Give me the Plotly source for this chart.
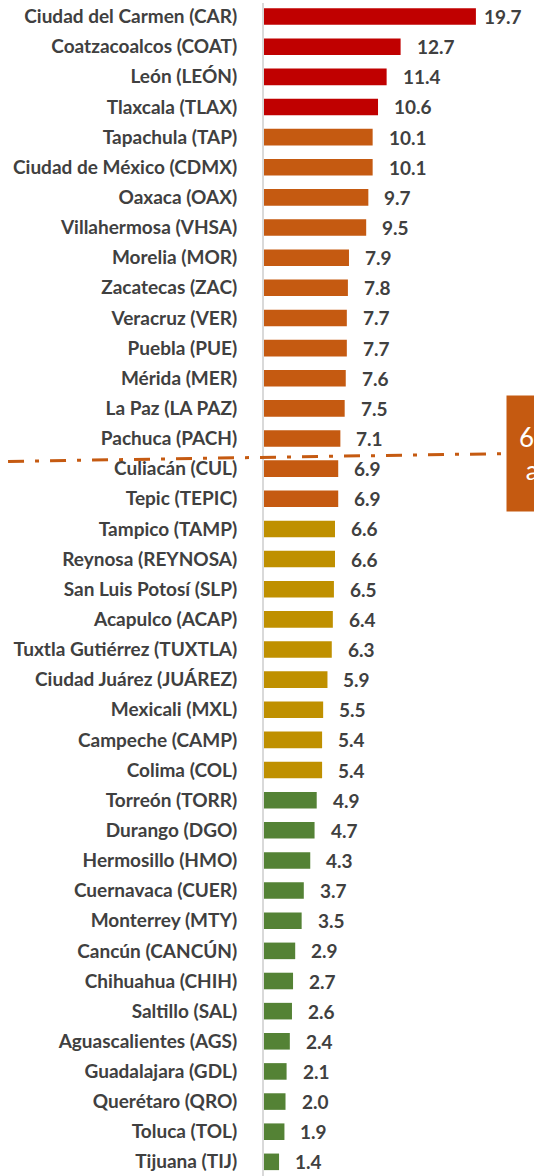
import plotly.graph_objects as go

# =========================================================
# DATA
# =========================================================

cities = [
    "Ciudad del Carmen (CAR)", "Coatzacoalcos (COAT)", "León (LEÓN)",
    "Tlaxcala (TLAX)", "Tapachula (TAP)", "Ciudad de México (CDMX)",
    "Oaxaca (OAX)", "Villahermosa (VHSA)", "Morelia (MOR)",
    "Zacatecas (ZAC)", "Veracruz (VER)", "Puebla (PUE)", "Mérida (MER)",
    "La Paz (LA PAZ)", "Pachuca (PACH)", "Culiacán (CUL)", "Tepic (TEPIC)",
    "Tampico (TAMP)", "Reynosa (REYNOSA)", "San Luis Potosí (SLP)",
    "Acapulco (ACAP)", "Tuxtla Gutiérrez (TUXTLA)", "Ciudad Juárez (JUÁREZ)",
    "Mexicali (MXL)", "Campeche (CAMP)", "Colima (COL)", "Torreón (TORR)",
    "Durango (DGO)", "Hermosillo (HMO)", "Cuernavaca (CUER)",
    "Monterrey (MTY)", "Cancún (CANCÚN)", "Chihuahua (CHIH)",
    "Saltillo (SAL)", "Aguascalientes (AGS)", "Guadalajara (GDL)",
    "Querétaro (QRO)", "Toluca (TOL)", "Tijuana (TIJ)",
]

values = [
    19.7, 12.7, 11.4, 10.6, 10.1, 10.1, 9.7, 9.5, 7.9, 7.8, 7.7, 7.7, 7.6,
    7.5, 7.1, 6.9, 6.9, 6.6, 6.6, 6.5, 6.4, 6.3, 5.9, 5.5, 5.4, 5.4, 4.9,
    4.7, 4.3, 3.7, 3.5, 2.9, 2.7, 2.6, 2.4, 2.1, 2.0, 1.9, 1.4,
]

# group per city: 0 red, 1 orange, 2 gold, 3 green
groups = [0] * 4 + [1] * 13 + [2] * 9 + [3] * 13

group_colors = ["#C00000", "#C55A11", "#BF9000", "#548235"]

# callout box text (only its first letters are inside the picture)
box_text = "6.9 promedio<br>\u00a0anual"

# =========================================================
# FIGURE
# =========================================================

FONT = "Lato"
TXT = "#404040"
ORANGE = "#C55A11"

idx = list(range(len(cities)))
colors = [group_colors[g] for g in groups]

fig = go.Figure()

fig.add_trace(go.Bar(
    x=values,
    y=idx,
    orientation="h",
    marker_color=colors,
    marker_line_width=0,
    width=0.55,
    hoverinfo="skip",
))

vmax = max(values)
for i, v in zip(idx, values):
    fig.add_annotation(
        x=v, y=i, xref="x", yref="y",
        text=f"{v:.1f}",
        showarrow=False,
        xanchor="left",
        xshift=6 if v == vmax else 14,
        font=dict(family=FONT, size=19, color=TXT, weight="bold"),
    )

# threshold line between Pachuca and Culiacán
fig.add_shape(
    type="line",
    xref="paper", yref="y",
    x0=-0.948, x1=0.896,
    y0=14.76, y1=14.5,
    line=dict(color=ORANGE, width=3, dash="16px,11px,4px,11px"),
)

fig.add_annotation(
    xref="paper", yref="y",
    x=0.896, y=14.5,
    xanchor="left", yanchor="middle",
    text=box_text,
    showarrow=False,
    align="left",
    bgcolor=ORANGE,
    borderpad=12,
    height=91,
    font=dict(family=FONT, size=26, color="white"),
)

fig.update_layout(
    width=534,
    height=1176,
    margin=dict(l=264, r=0, t=3, b=0),
    plot_bgcolor="white",
    paper_bgcolor="white",
    showlegend=False,
    bargap=0.45,
)

fig.update_xaxes(
    range=[0, 25.1],
    visible=False,
)

fig.update_yaxes(
    tickmode="array",
    tickvals=idx,
    ticktext=cities,
    range=[len(cities) - 0.53, -0.45],
    showgrid=False,
    zeroline=False,
    showline=True,
    linecolor="#D9D9D9",
    linewidth=2,
    ticks="outside",
    ticklen=21,
    tickcolor="rgba(0,0,0,0)",
    tickfont=dict(family=FONT, size=19, color=TXT, weight="bold"),
)

fig.write_html(
    "out.html",
    config={"displayModeBar": False},
    post_script="document.body.style.margin='0';",
)
